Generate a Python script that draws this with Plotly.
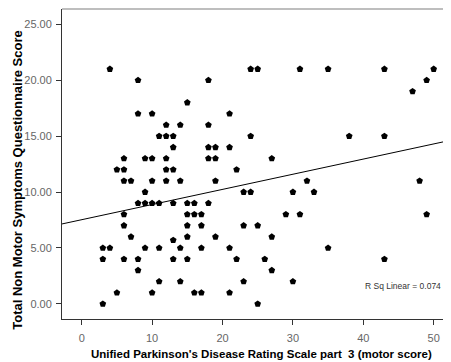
import plotly.graph_objects as go

# UPDRS part 3 motor score (x) vs NMSQuest total score (y)
updrs = [4, 24, 25, 31, 35, 43, 50,
         8, 18, 49,
         47,
         15,
         8, 10, 21,
         12, 14, 18,
         11, 12, 13, 24, 38, 43,
         13, 18, 19, 21,
         6, 9, 10, 12, 18, 19, 27,
         5, 6, 12, 13, 22,
         6, 7, 10, 12, 14, 19, 32, 48,
         9, 23, 24, 30, 33,
         8, 9, 10, 11, 13, 15, 16, 18,
         6, 15, 16, 17, 29, 31, 49,
         6, 15, 17, 23, 25,
         7, 15, 19, 27,
         13,
         3, 4, 9, 11, 14, 17, 21, 35,
         3, 6, 8, 13, 15, 22, 26, 43,
         8, 27,
         11, 14, 23, 30,
         5, 10, 16, 17, 21,
         3, 25]
nmsquest = [21] * 7 + [20] * 3 + [19] + [18] + [17] * 3 + [16] * 3 + [15] * 6 + \
           [14] * 4 + [13] * 7 + [12] * 5 + [11] * 8 + [10] * 5 + [9] * 8 + \
           [8] * 7 + [7] * 5 + [6] * 4 + [5.7] + [5] * 8 + [4] * 8 + [3] * 2 + \
           [2] * 4 + [1] * 5 + [0] * 2

fit_intercept = 7.53
fit_slope = 0.1355
r_sq_label = "R Sq Linear = 0.074"

x_ticks = [0, 10, 20, 30, 40, 50]
y_ticks = [0, 5, 10, 15, 20, 25]

x_range = [-2.8, 52.46]
y_range = [-1.35, 26.37]

FONT = "Liberation Sans, Arial, sans-serif"

fig = go.Figure()
fig.add_trace(go.Scatter(
    x=updrs, y=nmsquest, mode="markers",
    marker=dict(symbol="pentagon", size=7, color="black", line=dict(width=0)),
    showlegend=False, hoverinfo="x+y"))

fig.add_trace(go.Scatter(
    x=x_range, y=[fit_intercept + fit_slope * v for v in x_range],
    mode="lines", line=dict(color="black", width=1),
    showlegend=False, hoverinfo="skip"))

# page body has an 8px margin, so the figure is 8px smaller than the window
fig.update_layout(
    width=443, height=354,
    margin=dict(l=54, r=0, t=1, b=42.5),
    paper_bgcolor="white", plot_bgcolor="white",
    font=dict(family=FONT),
    xaxis=dict(range=x_range, tickvals=x_ticks, ticktext=[str(v) for v in x_ticks],
               showgrid=False, zeroline=False, showline=True, linecolor="#333333",
               linewidth=1, ticks="outside", ticklen=5, tickcolor="#333333",
               ticklabelstandoff=4,
               tickfont=dict(size=11, color="#666666", family=FONT)),
    yaxis=dict(range=y_range, tickvals=y_ticks, ticktext=["%.2f" % v for v in y_ticks],
               showgrid=False, zeroline=False, showline=True, linecolor="#333333",
               linewidth=1, ticks="outside", ticklen=5, tickcolor="#333333",
               ticklabelstandoff=2,
               tickfont=dict(size=11, color="#666666", family=FONT)),
    shapes=[dict(type="line", xref="paper", yref="paper", x0=0, x1=1, y0=1, y1=1,
                 line=dict(color="#a8a8a8", width=1.5))],
    annotations=[
        dict(text="<b>Unified Parkinson's Disease Rating Scale part  3 (motor score)</b>",
             xref="x", yref="paper", x=25.5, y=0, yanchor="middle", xanchor="center",
             yshift=-34.5, showarrow=False, font=dict(size=11.5, color="black", family=FONT)),
        dict(text="<b>Total Non Motor Symptoms Questionnaire Score</b>",
             xref="paper", yref="y", x=0, y=11.1, xanchor="center", yanchor="middle",
             xshift=-44, textangle=-90, showarrow=False,
             font=dict(size=13, color="black", family=FONT)),
        dict(text=r_sq_label, xref="x", yref="y", x=45.7, y=1.64,
             xanchor="center", yanchor="middle", showarrow=False,
             font=dict(size=8.5, color="#333333", family=FONT)),
    ],
)

fig.write_html("out.html")
